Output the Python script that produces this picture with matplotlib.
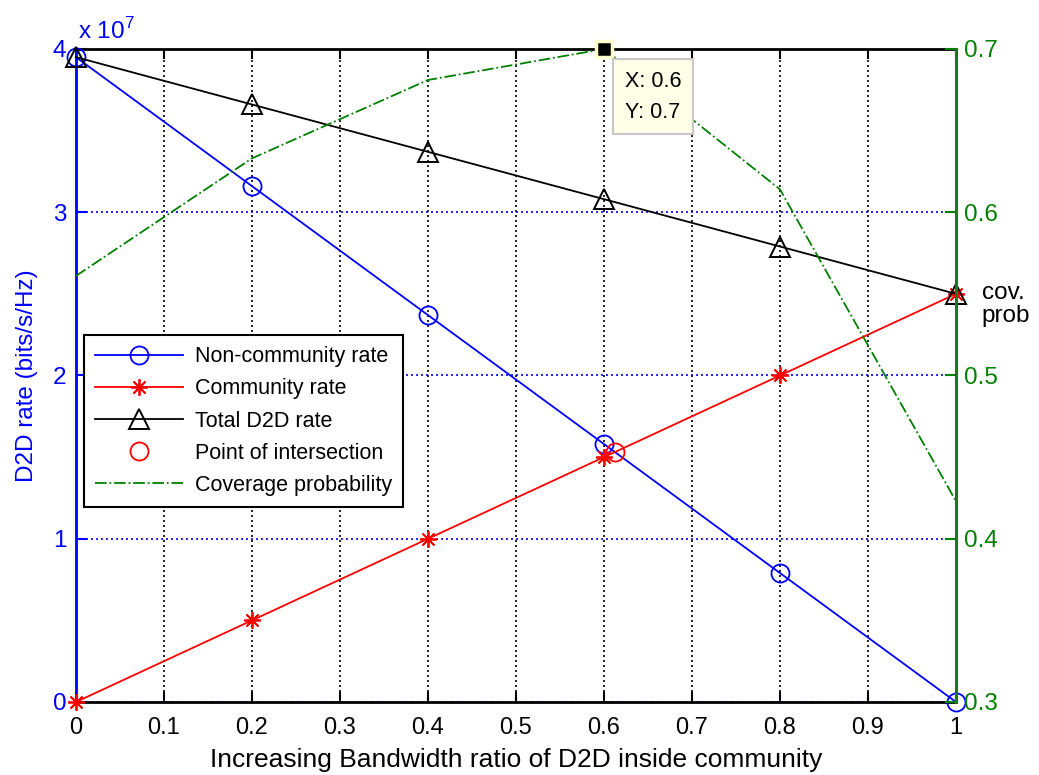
import matplotlib
matplotlib.use('Agg')
import matplotlib.pyplot as plt

plt.rcParams['font.family'] = ['Liberation Sans', 'DejaVu Sans']
plt.rcParams['mathtext.fontset'] = 'custom'
plt.rcParams['mathtext.rm'] = 'Liberation Sans'

# ---------------- data ----------------
x = [0.0, 0.2, 0.4, 0.6, 0.8, 1.0]
non_community = [3.95, 3.16, 2.37, 1.58, 0.79, 0.0]   # x 1e7 bits/s/Hz
community = [0.0, 0.5, 1.0, 1.5, 2.0, 2.5]            # x 1e7
total = [3.95, 3.66, 3.37, 3.08, 2.79, 2.5]           # x 1e7
coverage = [0.561, 0.633, 0.681, 0.700, 0.614, 0.423]
intersect_x = [0.612]
intersect_y = [1.53]
tip_index = 3

xticks = [0, 0.1, 0.2, 0.3, 0.4, 0.5, 0.6, 0.7, 0.8, 0.9, 1.0]
xtick_labels = ['0', '0.1', '0.2', '0.3', '0.4', '0.5', '0.6', '0.7', '0.8', '0.9', '1']
left_ticks = [0, 1, 2, 3, 4]
left_labels = ['0', '1', '2', '3', '4']
right_ticks = [0.3, 0.4, 0.5, 0.6, 0.7]
right_labels = ['0.3', '0.4', '0.5', '0.6', '0.7']

BLUE = '#0000ff'
RED = '#ff0000'
GREEN = '#008000'

fig = plt.figure(figsize=(10.39, 7.75), dpi=100)
ax = fig.add_axes([0.0731, 0.0942, 0.8470, 0.8426])
ax.set_xlim(0, 1)
ax.set_ylim(0, 4)

ax.set_xticks(xticks)
ax.set_xticklabels(xtick_labels)
ax.set_yticks(left_ticks)
ax.set_yticklabels(left_labels)

ax.xaxis.grid(True, color='k', linestyle=(0, (1.2, 1.8)), linewidth=1.2)
ax.yaxis.grid(True, color=BLUE, linestyle=(0, (1.2, 1.8)), linewidth=1.2)
ax.set_axisbelow(True)

ax.tick_params(axis='x', direction='in', top=True, length=7, width=1.5,
               colors='k', labelsize=17, pad=11)
ax.tick_params(axis='y', direction='in', length=8, width=1.5,
               colors=BLUE, labelsize=17.5, pad=7, right=False)

for s in ['top', 'bottom']:
    ax.spines[s].set_color('k')
    ax.spines[s].set_linewidth(2)
ax.spines['left'].set_color(BLUE)
ax.spines['left'].set_linewidth(2)
ax.spines['right'].set_visible(False)

l1, = ax.plot(x, non_community, '-o', color=BLUE, mfc='none', mec=BLUE,
              ms=13, mew=1.3, lw=1.3, clip_on=False, zorder=3)
l2, = ax.plot(x, community, '-', color=RED, marker=(8, 2, 0), mec=RED,
              ms=12, mew=1.3, lw=1.3, clip_on=False, zorder=3)
l3, = ax.plot(x, total, '-^', color='k', mfc='none', mec='k',
              ms=14, mew=1.4, lw=1.3, clip_on=False, zorder=3)
l4, = ax.plot(intersect_x, intersect_y, 'o', color=RED, mfc='none', mec=RED,
              ms=13, mew=1.3, clip_on=False, zorder=4)

ax.set_ylabel('D2D rate (bits/s/Hz)', color=BLUE, fontsize=17.5)
ax.yaxis.set_label_coords(-0.043, 0.5)
ax.set_xlabel('Increasing Bandwidth ratio of D2D inside community', fontsize=19)
ax.xaxis.set_label_coords(0.5, -0.071)

ax.text(0.002, 1.016, r'x 10$^{\mathregular{7}}$', transform=ax.transAxes,
        color=BLUE, fontsize=17.5, ha='left', va='baseline')

# ---------------- right axis ----------------
ax2 = ax.twinx()
ax2.set_ylim(0.3, 0.7)
ax2.set_yticks(right_ticks)
ax2.set_yticklabels(right_labels)
ax2.tick_params(axis='y', direction='in', length=8, width=1.5,
                colors=GREEN, labelsize=17.5, pad=6)
for s in ['left', 'top', 'bottom']:
    ax2.spines[s].set_visible(False)
ax2.spines['right'].set_color('#1a7a1a')
ax2.spines['right'].set_linewidth(2.2)

l5, = ax2.plot(x, coverage, linestyle='-.', color=GREEN, lw=1.3,
               clip_on=False, zorder=3)

ax2.text(1.0295, 0.609, 'cov.\nprob', transform=ax2.transAxes,
         ha='left', va='center', fontsize=17.5, linespacing=1.05)

# data tip
ax2.plot([x[tip_index]], [coverage[tip_index]], 's', ms=11, mfc='k',
         mec='#ffffd0', mew=2.5, clip_on=False, zorder=10)
ax2.annotate('X: %g\nY: %g' % (x[tip_index], coverage[tip_index]),
             xy=(x[tip_index], coverage[tip_index]), xycoords='data',
             xytext=(21, -22), textcoords='offset pixels',
             ha='left', va='top', fontsize=15.5, linespacing=1.6,
             annotation_clip=False, zorder=11,
             bbox=dict(boxstyle='square,pad=0.55', fc='#ffffe8', ec='#c8c8c8', lw=1.5))

leg = ax2.legend([l1, l2, l3, l4, l5],
                 ['Non-community rate', 'Community rate', 'Total D2D rate',
                  'Point of intersection', 'Coverage probability'],
                 loc='lower left', bbox_to_anchor=(0.009, 0.299),
                 borderaxespad=0, fontsize=15.5, frameon=True, fancybox=False,
                 edgecolor='k', framealpha=1, handlelength=4.1,
                 labelspacing=0.52, borderpad=0.5, handletextpad=0.55)
leg.get_frame().set_linewidth(1.5)
leg.set_zorder(20)

fig.savefig('out.png', dpi=100)
